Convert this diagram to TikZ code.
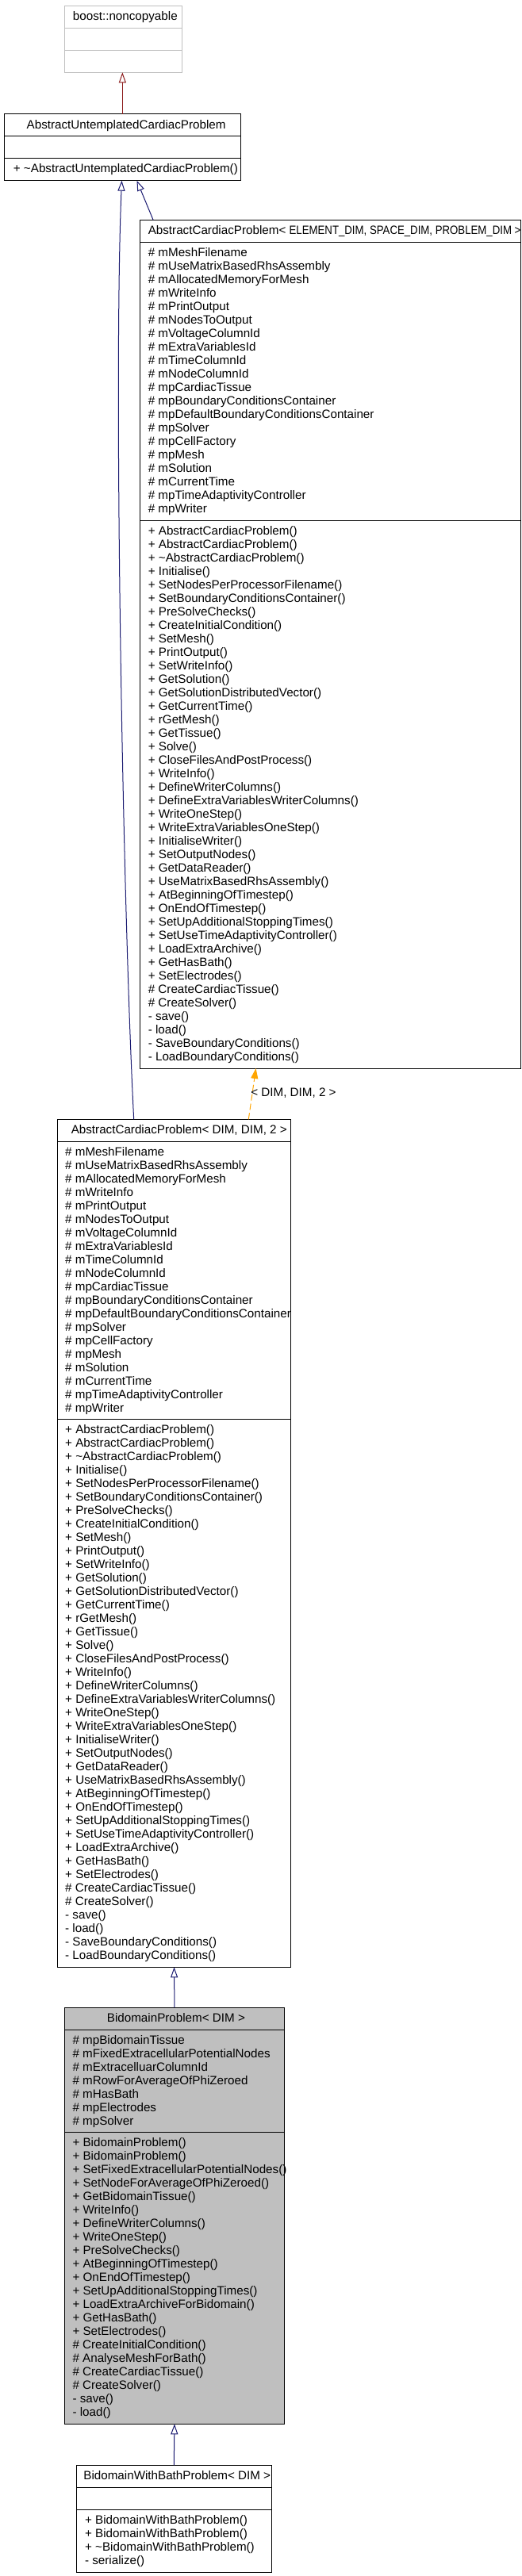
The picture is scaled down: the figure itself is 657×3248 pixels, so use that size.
\documentclass[tikz,border=0pt]{standalone}
\usepackage{fontspec}
\usepackage{graphicx}
\setmainfont{Liberation Sans}
\usetikzlibrary{arrows.meta}
\definecolor{inhblue}{HTML}{191970}
\definecolor{privred}{HTML}{8B1A1A}
\definecolor{tmplorange}{HTML}{FFA500}
\definecolor{boxgray}{HTML}{BFBFBF}
\definecolor{bordergray}{HTML}{BFBFBF}

\newcommand{\acpattrs}{\strut\# mMeshFilename\\
\# mUseMatrixBasedRhsAssembly\\
\# mAllocatedMemoryForMesh\\
\# mWriteInfo\\
\# mPrintOutput\\
\# mNodesToOutput\\
\# mVoltageColumnId\\
\# mExtraVariablesId\\
\# mTimeColumnId\\
\# mNodeColumnId\\
\# mpCardiacTissue\\
\# mpBoundaryConditionsContainer\\
\# mpDefaultBoundaryConditionsContainer\\
\# mpSolver\\
\# mpCellFactory\\
\# mpMesh\\
\# mSolution\\
\# mCurrentTime\\
\# mpTimeAdaptivityController\\
\# mpWriter}

\newcommand{\acpmeths}{\strut + AbstractCardiacProblem()\\
+ AbstractCardiacProblem()\\
+ \textasciitilde AbstractCardiacProblem()\\
+ Initialise()\\
+ SetNodesPerProcessorFilename()\\
+ SetBoundaryConditionsContainer()\\
+ PreSolveChecks()\\
+ CreateInitialCondition()\\
+ SetMesh()\\
+ PrintOutput()\\
+ SetWriteInfo()\\
+ GetSolution()\\
+ GetSolutionDistributedVector()\\
+ GetCurrentTime()\\
+ rGetMesh()\\
+ GetTissue()\\
+ Solve()\\
+ CloseFilesAndPostProcess()\\
+ WriteInfo()\\
+ DefineWriterColumns()\\
+ DefineExtraVariablesWriterColumns()\\
+ WriteOneStep()\\
+ WriteExtraVariablesOneStep()\\
+ InitialiseWriter()\\
+ SetOutputNodes()\\
+ GetDataReader()\\
+ UseMatrixBasedRhsAssembly()\\
+ AtBeginningOfTimestep()\\
+ OnEndOfTimestep()\\
+ SetUpAdditionalStoppingTimes()\\
+ SetUseTimeAdaptivityController()\\
+ LoadExtraArchive()\\
+ GetHasBath()\\
+ SetElectrodes()\\
\# CreateCardiacTissue()\\
\# CreateSolver()\\
- save()\\
- load()\\
- SaveBoundaryConditions()\\
- LoadBoundaryConditions()}

\begin{document}
\begin{tikzpicture}[x=1pt,y=-1pt,
  umlbox/.style={draw=black, line width=1pt, inner sep=0pt, outer sep=0pt, anchor=north west, rectangle},
  sep/.style={draw=black, line width=1pt},
  txt/.style={anchor=north west, inner sep=0pt, outer sep=0pt, align=left, font=\fontsize{15.2}{17}\selectfont},
  inh/.style={draw=inhblue, line width=1pt, -{Triangle[open, length=13pt, width=9pt]}},
  privinh/.style={draw=privred, line width=1pt, -{Triangle[open, length=13pt, width=9pt]}},
  tmpl/.style={draw=tmplorange, line width=1pt, dash pattern=on 8pt off 4pt, -{Triangle[length=13pt, width=9pt, fill=tmplorange]}}]
\fill[white] (0,0) rectangle (657,3248);
\useasboundingbox (0,0) rectangle (657,3248);

% boost::noncopyable
\node[umlbox, draw=bordergray, minimum width=148pt, minimum height=84pt] (nc) at (81,7.3) {};
\draw[bordergray, line width=1pt] (81,35.3) -- (229,35.3) (81,63.3) -- (229,63.3);
\node[txt] (ncT) at (91.9,13.8) {\strut boost::noncopyable};

% AbstractUntemplatedCardiacProblem
\node[umlbox, minimum width=297.7pt, minimum height=84pt] (ut) at (5.5,143.7) {};
\draw[sep] (5.5,171.7) -- (303.2,171.7) (5.5,199.7) -- (303.2,199.7);
\node[txt] (utT) at (33.7,150.2) {\strut AbstractUntemplatedCardiacProblem};
\node[txt] (utM) at (16.9,205.5) {\strut + \textasciitilde AbstractUntemplatedCardiacProblem()};

% AbstractCardiacProblem template
\node[umlbox, minimum width=479.8pt, minimum height=1069.7pt] (tp) at (176.7,277.3) {};
\draw[sep] (176.7,305.3) -- (656.5,305.3) (176.7,656.3) -- (656.5,656.3);
\node[txt] (tpT) at (186.8,283.8) {\strut AbstractCardiacProblem< \scalebox{0.87}[1]{ELEMENT\_DIM, SPACE\_DIM, PROBLEM\_DIM >}};
\node[txt] (tpA) at (186.8,311.1) {\acpattrs};
\node[txt] (tpM) at (186.8,662.1) {\acpmeths};

% AbstractCardiacProblem< DIM, DIM, 2 >
\node[umlbox, minimum width=294.8pt, minimum height=1069pt] (md) at (72.1,1411.3) {};
\draw[sep] (72.1,1439.3) -- (366.9,1439.3) (72.1,1789.3) -- (366.9,1789.3);
\node[txt] (mdT) at (89.8,1417.8) {\strut AbstractCardiacProblem< DIM, DIM, 2 >};
\node[txt] (mdA) at (82.2,1445.1) {\acpattrs};
\node[txt] (mdM) at (82.2,1795.1) {\acpmeths};

% BidomainProblem
\node[umlbox, fill=boxgray, minimum width=277.9pt, minimum height=525pt] (bd) at (81,2531.3) {};
\draw[sep] (81,2559.3) -- (358.9,2559.3) (81,2688.3) -- (358.9,2688.3);
\node[txt] (bdT) at (134.9,2537.8) {\strut BidomainProblem< DIM >};
\node[txt] (bdA) at (91.5,2565.1) {\strut\# mpBidomainTissue\\
\# mFixedExtracellularPotentialNodes\\
\# mExtracelluarColumnId\\
\# mRowForAverageOfPhiZeroed\\
\# mHasBath\\
\# mpElectrodes\\
\# mpSolver};
\node[txt] (bdM) at (91.5,2694.1) {\strut + BidomainProblem()\\
+ BidomainProblem()\\
+ SetFixedExtracellularPotentialNodes()\\
+ SetNodeForAverageOfPhiZeroed()\\
+ GetBidomainTissue()\\
+ WriteInfo()\\
+ DefineWriterColumns()\\
+ WriteOneStep()\\
+ PreSolveChecks()\\
+ AtBeginningOfTimestep()\\
+ OnEndOfTimestep()\\
+ SetUpAdditionalStoppingTimes()\\
+ LoadExtraArchiveForBidomain()\\
+ GetHasBath()\\
+ SetElectrodes()\\
\# CreateInitialCondition()\\
\# AnalyseMeshForBath()\\
\# CreateCardiacTissue()\\
\# CreateSolver()\\
- save()\\
- load()};

% BidomainWithBathProblem
\node[umlbox, minimum width=246.3pt, minimum height=135pt] (bw) at (96.1,3108.3) {};
\draw[sep] (96.1,3136.3) -- (342.4,3136.3) (96.1,3164.3) -- (342.4,3164.3);
\node[txt] (bwT) at (105.4,3114.8) {\strut BidomainWithBathProblem< DIM >};
\node[txt] (bwM) at (107.1,3170.1) {\strut + BidomainWithBathProblem()\\
+ BidomainWithBathProblem()\\
+ \textasciitilde BidomainWithBathProblem()\\
- serialize()};

% connectors
\draw[privinh] (ut.north) -- (ut.north |- nc.south);
\coordinate (utL) at (153.5,227.7);
\coordinate (utR) at (172.5,227.7);
\coordinate (tpTop) at (193.1,277.3);
\coordinate (tpBot) at (322.6,1347);
\coordinate (mdTopL) at (168.7,1411.3);
\coordinate (mdTopR) at (313.3,1411.3);
\draw[inh] (mdTopL) .. controls (155,1150) and (143,480) .. (utL);
\draw[inh] (tpTop) -- (utR);
\draw[tmpl] (mdTopR) -- (tpBot);
\node[txt] (lbl) at (316.3,1370.8) {\strut < DIM, DIM, 2 >};
\draw[inh] (bd.north) -- (md.south);
\draw[inh] (bw.north) -- (bd.south);
\end{tikzpicture}
\end{document}
